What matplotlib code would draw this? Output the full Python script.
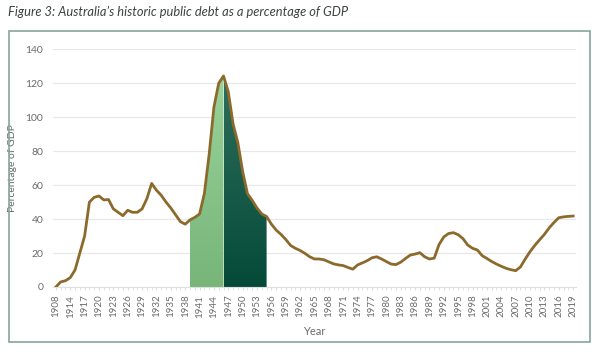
import numpy as np
import matplotlib
matplotlib.use("Agg")
import matplotlib.pyplot as plt
from matplotlib.patches import Rectangle
from matplotlib.colors import LinearSegmentedColormap

# Data
years = [1908, 1912, 1913] + list(range(1914, 2020))
debt_pct = [
    0, 3, 3.7, 5.5, 10, 20, 30, 50, 52.8, 53.6,           # 1908-1920
    51.3, 51.5, 46, 44, 42, 45.2, 44, 44, 46, 52,          # 1921-1930
    61, 57, 54, 50, 46.5, 42.5, 38.5, 37, 39.5, 41,        # 1931-1940
    43, 55, 78, 106, 120, 124.3, 115, 96, 85, 68,          # 1941-1950
    55, 51, 46.5, 43, 41.5, 37, 33.5, 31, 28, 24.5,        # 1951-1960
    22.8, 21.5, 19.8, 17.8, 16.5, 16.5, 16, 14.8, 13.6, 13,  # 1961-1970
    12.6, 11.5, 10.5, 13, 14.2, 15.5, 17.2, 17.8, 16.5, 15,  # 1971-1980
    13.5, 13.2, 14.6, 16.8, 18.8, 19.4, 20.2, 17.8, 16.5, 17,  # 1981-1990
    25, 29.5, 31.5, 32, 30.8, 28.5, 24.7, 22.8, 21.8, 18.5,  # 1991-2000
    16.8, 15, 13.5, 12.2, 11, 10.2, 9.6, 11.8, 16.5, 20.8,  # 2001-2010
    24.5, 27.8, 31, 34.8, 38, 40.8, 41.3, 41.6, 41.8,       # 2011-2019
]
war_start, war_peak, war_end = 1939, 1946, 1955
y_ticks = [0, 20, 40, 60, 80, 100, 120, 140]

LINE_COLOR = "#8c6a2c"
TEXT_GRAY = "#6b6b6b"

plt.rcParams["font.family"] = ["Lato", "DejaVu Sans"]

x = np.arange(len(years))
y = np.array(debt_pct)
i_start = years.index(war_start)
i_peak = years.index(war_peak)
i_end = years.index(war_end)


def gradient_fill(ax, xs, ys, top_color, bottom_color):
    # fill the area under the curve with a vertical gradient
    poly = ax.fill_between(xs, ys, color="none", lw=0)
    cmap = LinearSegmentedColormap.from_list("g", [bottom_color, top_color])
    grad = np.linspace(0, 1, 256).reshape(-1, 1)
    im = ax.imshow(grad, cmap=cmap, aspect="auto", origin="lower",
                   extent=[xs[0], xs[-1], 0, ys.max()], zorder=1)
    im.set_clip_path(poly.get_paths()[0], transform=ax.transData)


fig = plt.figure(figsize=(6.01, 3.63), dpi=100)
ax = fig.add_axes([53 / 601, 1 - 287 / 363, 523 / 601, (287 - 49.3) / 363])

gradient_fill(ax, x[i_start:i_peak + 1], y[i_start:i_peak + 1], "#9ad39b", "#77b579")
gradient_fill(ax, x[i_peak:i_end + 1], y[i_peak:i_end + 1], "#2f6e5c", "#054a39")
ax.plot(x, y, color=LINE_COLOR, lw=2.0, solid_joinstyle="round", zorder=3)

ax.set_xlim(-0.6, len(years) - 0.4)
ax.set_ylim(0, 140)
ax.set_yticks(y_ticks)
ax.yaxis.grid(True, color="#e8e8e8", lw=0.9)
ax.set_axisbelow(True)

major = list(range(0, len(years), 3))
ax.set_xticks(major)
ax.set_xticklabels([str(years[i]) for i in major], rotation=90)
ax.set_xticks(x, minor=True)
ax.tick_params(axis="x", which="both", length=2.5, color="#dddddd", labelsize=7,
               labelcolor=TEXT_GRAY, pad=3)
ax.tick_params(axis="y", length=0, labelsize=7.5, labelcolor=TEXT_GRAY, pad=7)

for side in ["top", "right", "left"]:
    ax.spines[side].set_visible(False)
ax.spines["bottom"].set_color("#e0e0e0")

ax.set_xlabel("Year", fontsize=8, color=TEXT_GRAY, labelpad=6)
ax.set_ylabel("Percentage of GDP", fontsize=7.5, color=TEXT_GRAY)
ax.yaxis.set_label_coords(-36 / 523, 0.5)

# outer frame and title
fig.patches.append(Rectangle((9 / 601, 1 - 342 / 363), 581 / 601, 311 / 363,
                             transform=fig.transFigure, fill=False,
                             edgecolor="#86a596", lw=1.2))
fig.text(8 / 601, 1 - 12 / 363, "Figure 3: Australia\u2019s historic public debt as a percentage of GDP",
         fontsize=9.3, style="italic", color="#3a4540", va="center", ha="left")

fig.savefig("out.png", dpi=100)
